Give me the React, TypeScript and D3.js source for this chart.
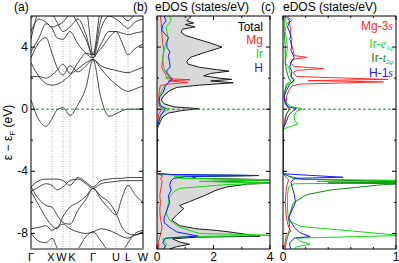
import React, { useEffect, useRef } from 'react';
import * as d3 from 'd3';

const width = 399;
const height = 263;
const top = 16;
const bottom = 249;

const eMin = -9;
const eMax = 6;

// k path
const kLabels = ['Γ', 'X', 'W', 'K', 'Γ', 'U', 'L', 'W'];
const kSym = [0, 21, 32, 39, 62, 85, 97, 112];
const kLabelShift = [0, -1, -1.5, 2, 0, 0, 0, 0];
const kNodes = [0, 8, 15, 21, 26, 32, 39, 47, 55, 62, 70, 78, 85, 91, 97, 104, 112];

// band energies (eV) at kNodes
const band1 = [0.6, -0.7, -1.1, -0.6, -0.05, 0.1, -0.4, 0.3, 1.4, 3.2, 0.7, -0.45, -0.3, -0.1, 0.0, 0.0, 0.05];
const band2 = [3.0, 2.1, 1.65, 1.55, 1.6, 1.8, 2.2, 2.6, 3.0, 3.2, 2.6, 2.0, 1.6, 1.3, 1.15, 1.3, 1.5];
const band3 = [3.3, 4.3, 4.6, 3.6, 2.7, 2.2, 2.8, 2.4, 2.8, 3.2, 2.8, 2.6, 2.5, 2.4, 2.35, 2.5, 2.7];
const band4 = [2.1, 2.1, 2.0, 2.2, 2.5, 2.9, 2.3, 3.0, 3.6, 3.5, 3.9, 4.6, 5.0, 4.3, 3.5, 3.9, 4.2];
const band5 = [3.7, 4.6, 5.5, 5.2, 4.6, 4.5, 5.0, 4.2, 3.6, 3.3, 4.2, 5.0, 5.0, 4.9, 4.8, 4.9, 5.0];
const band6 = [4.5, 6.3, 6.6, 6.2, 5.6, 5.0, 5.3, 5.8, 4.8, 3.3, 5.2, 6.0, 5.8, 5.5, 5.2, 5.6, 5.8];
const band7 = [5.0, 5.8, 5.6, 5.3, 5.4, 5.6, 6.2, 6.8, 6.5, 3.5, 6.4, 6.6, 6.3, 6.0, 5.7, 6.1, 6.3];
const band8 = [5.8, 6.5, 6.8, 6.8, 6.6, 6.5, 6.3, 5.5, 4.5, 3.5, 5.8, 6.8, 7.0, 6.8, 6.5, 6.6, 6.6];
const band9 = [-5.0, -4.6, -4.5, -4.5, -4.5, -4.6, -4.9, -4.4, -4.7, -5.0, -4.6, -4.5, -4.45, -4.45, -4.4, -4.4, -4.4];
const band10 = [-5.3, -5.0, -4.8, -4.9, -5.2, -5.0, -4.6, -4.5, -4.8, -5.1, -4.8, -4.7, -4.65, -4.6, -4.6, -4.6, -4.6];
const band11 = [-5.0, -5.8, -6.2, -6.3, -6.8, -7.3, -7.4, -6.5, -5.8, -5.1, -5.8, -6.4, -6.8, -5.7, -4.9, -5.5, -6.0];
const band12 = [-5.3, -6.2, -7.0, -7.5, -7.7, -6.9, -6.3, -6.0, -5.6, -5.1, -5.6, -6.0, -6.7, -7.6, -8.0, -8.1, -7.9];
const band13 = [-7.7, -7.6, -7.5, -7.8, -7.6, -7.4, -7.7, -7.9, -8.0, -7.9, -7.7, -7.8, -8.0, -8.2, -8.3, -8.1, -7.9];
const band14 = [-8.0, -8.5, -8.6, -8.3, -8.9, -9.5, -9.5, -9.0, -8.2, -7.9, -8.5, -9.2, -9.5, -9.2, -8.6, -8.0, -7.8];
const bands = [band1, band2, band3, band4, band5, band6, band7, band8, band9, band10, band11, band12, band13, band14];

// eDOS [energy, states/eV]
const dosTotal = [
  [6.0, 1.2], [5.85, 1.15], [5.7, 1.05], [5.55, 1.3], [5.45, 1.0], [5.3, 1.35], [5.15, 0.9], [4.95, 0.85],
  [4.75, 1.0], [4.5, 1.45], [4.25, 1.9], [4.0, 2.3], [3.85, 2.05], [3.6, 1.6], [3.35, 1.2], [3.1, 1.05],
  [2.9, 1.1], [2.7, 1.5], [2.55, 2.1], [2.45, 2.55], [2.3, 1.9], [2.15, 1.65], [2.0, 2.2], [1.92, 2.65],
  [1.82, 1.9], [1.7, 2.7], [1.55, 1.5], [1.4, 0.7], [1.2, 0.45], [0.9, 0.25], [0.6, 0.15], [0.35, 0.25],
  [0.15, 0.6], [0.03, 1.5], [-0.08, 0.9], [-0.25, 0.4], [-0.5, 0.2], [-0.8, 0.12], [-1.05, 0.05], [-1.3, 0],
  [-4.15, 0], [-4.22, 0.6], [-4.27, 3.6], [-4.33, 1.2], [-4.45, 1.4], [-4.55, 4.3], [-4.65, 2.0], [-4.75, 4.3],
  [-4.82, 3.2], [-5.0, 2.5], [-5.15, 2.2], [-5.25, 2.05], [-5.55, 1.7], [-5.95, 1.15], [-6.2, 0.8], [-6.4, 0.95],
  [-6.8, 0.7], [-7.15, 0.52], [-7.5, 0.8], [-7.7, 1.4], [-7.8, 2.1], [-7.9, 2.55], [-8.18, 3.65], [-8.24, 1.4],
  [-8.35, 0.55], [-8.55, 0.8], [-8.7, 1.15], [-8.85, 0.7], [-9.0, 0.45],
];
const dosMg = [
  [6.0, 0.12], [5.5, 0.15], [4.9, 0.17], [4.3, 0.2], [3.8, 0.24], [3.2, 0.2], [2.7, 0.17], [2.4, 0.25],
  [2.1, 0.35], [1.95, 0.5], [1.9, 1.17], [1.82, 0.4], [1.72, 1.1], [1.6, 0.3], [1.5, 0.12], [1.2, 0.08],
  [0.6, 0.06], [0.2, 0.08], [0.02, 0.18], [-0.3, 0.06], [-0.8, 0.03], [-1.3, 0], [-4.15, 0], [-4.3, 0.2],
  [-4.45, 0.12], [-4.6, 0.18], [-5.0, 0.15], [-5.5, 0.1], [-6.0, 0.12], [-6.5, 0.1], [-7.0, 0.12], [-7.6, 0.18],
  [-7.9, 0.15], [-8.2, 0.1], [-8.6, 0.05], [-9.0, 0.05],
];
const dosIr = [
  [6.0, 0.45], [5.7, 0.5], [5.3, 0.33], [5.0, 0.35], [4.6, 0.4], [4.2, 0.3], [3.8, 0.25], [3.3, 0.2],
  [2.7, 0.24], [2.4, 0.3], [2.2, 0.45], [2.0, 0.3], [1.9, 0.5], [1.7, 0.4], [1.5, 0.25], [1.2, 0.17],
  [0.9, 0.1], [0.6, 0.08], [0.3, 0.12], [0.1, 0.25], [0.02, 0.42], [-0.15, 0.25], [-0.4, 0.15], [-0.7, 0.08],
  [-1.0, 0.04], [-1.3, 0], [-4.15, 0], [-4.22, 0.5], [-4.27, 3.5], [-4.33, 0.6], [-4.45, 0.8], [-4.55, 4.3],
  [-4.65, 1.5], [-4.75, 4.3], [-4.85, 2.5], [-4.95, 1.8], [-5.1, 0.8], [-5.3, 0.6], [-5.65, 0.45], [-6.2, 0.38],
  [-6.7, 0.33], [-7.15, 0.45], [-7.6, 0.8], [-8.0, 1.5], [-8.12, 4.3], [-8.2, 1.0], [-8.35, 0.2], [-8.55, 0.25],
  [-8.7, 0.35], [-8.9, 0.25], [-9.0, 0.2],
];
const dosH = [
  [6.0, 0.25], [5.7, 0.32], [5.4, 0.2], [5.1, 0.17], [4.8, 0.3], [4.6, 0.4], [4.3, 0.35], [4.0, 0.35],
  [3.7, 0.45], [3.4, 0.4], [3.0, 0.45], [2.7, 0.46], [2.5, 0.35], [2.3, 0.35], [2.1, 0.45], [1.95, 0.55],
  [1.8, 0.45], [1.5, 0.3], [1.1, 0.22], [0.8, 0.1], [0.5, 0.07], [0.2, 0.12], [0.05, 0.3], [-0.1, 0.25],
  [-0.4, 0.12], [-0.7, 0.08], [-1.0, 0.04], [-1.3, 0], [-4.15, 0], [-4.2, 0.5], [-4.27, 3.6], [-4.35, 1.0],
  [-4.45, 0.6], [-4.6, 0.5], [-4.9, 0.45], [-5.2, 0.5], [-5.6, 0.4], [-6.0, 0.45], [-6.5, 0.35], [-7.0, 0.25],
  [-7.3, 0.25], [-7.6, 0.45], [-7.9, 0.7], [-8.17, 1.45], [-8.3, 0.3], [-8.6, 0.2], [-8.8, 0.3], [-9.0, 0.25],
];

// projected eDOS, panel (c)
const pdosMg3s = [
  [6.0, 0.04], [5.9, 0.05], [5.7, 0.08], [5.55, 0.04], [5.4, 0.06], [5.1, 0.07], [4.9, 0.06], [4.5, 0.08],
  [4.2, 0.07], [3.8, 0.09], [3.45, 0.1], [3.34, 0.21], [3.2, 0.08], [2.95, 0.07], [2.75, 0.1], [2.62, 0.36],
  [2.5, 0.12], [2.35, 0.09], [2.1, 0.12], [1.92, 0.93], [1.84, 0.22], [1.76, 0.89], [1.62, 0.15], [1.5, 0.08],
  [1.2, 0.05], [0.8, 0.03], [0.4, 0.03], [0.1, 0.04], [0.0, 0.06], [-0.2, 0.04], [-0.5, 0.02], [-1.0, 0.01],
  [-1.3, 0], [-4.15, 0], [-4.4, 0.03], [-4.55, 0.05], [-5.0, 0.03], [-6.0, 0.02], [-7.0, 0.03], [-7.6, 0.05],
  [-7.85, 0.07], [-8.1, 0.03], [-8.5, 0.02], [-9.0, 0.01],
];
const pdosIrEg = [
  [6.0, 0.02], [5.5, 0.03], [5.0, 0.02], [4.5, 0.03], [4.0, 0.04], [3.5, 0.03], [3.0, 0.02], [2.7, 0.05],
  [2.4, 0.06], [2.0, 0.08], [1.8, 0.1], [1.55, 0.04], [1.2, 0.02], [0.8, 0.01], [0.4, 0.03], [0.15, 0.08],
  [0.03, 0.17], [-0.15, 0.12], [-0.4, 0.1], [-0.7, 0.1], [-0.95, 0.13], [-1.15, 0.05], [-1.3, 0], [-4.15, 0],
  [-4.5, 0.1], [-4.58, 1.05], [-4.65, 0.3], [-4.72, 1.05], [-4.8, 0.1], [-5.0, 0.05], [-5.5, 0.04], [-6.5, 0.04],
  [-7.2, 0.05], [-7.55, 0.16], [-8.13, 1.05], [-8.3, 0.12], [-8.5, 0.15], [-8.7, 0.24], [-8.85, 0.12], [-9.0, 0.1],
];
const pdosIrT2g = [
  [6.0, 0.01], [5.0, 0.01], [4.0, 0.02], [3.0, 0.02], [2.5, 0.03], [2.0, 0.05], [1.8, 0.07], [1.6, 0.03],
  [1.0, 0.01], [0.3, 0.02], [0.03, 0.06], [-0.3, 0.03], [-0.8, 0.02], [-1.3, 0], [-4.15, 0], [-4.3, 0.05],
  [-4.5, 0.15], [-4.68, 1.05], [-4.75, 0.4], [-4.8, 1.05], [-4.86, 0.88], [-5.2, 0.42], [-5.5, 0.21], [-6.05, 0.09],
  [-7.0, 0.05], [-7.6, 0.06], [-8.0, 0.05], [-8.5, 0.03], [-9.0, 0.02],
];
const pdosH1s = [
  [6.0, 0.02], [5.8, 0.05], [5.6, 0.06], [5.3, 0.04], [5.1, 0.05], [4.8, 0.07], [4.5, 0.06], [4.1, 0.08],
  [3.8, 0.07], [3.5, 0.09], [3.3, 0.1], [3.0, 0.07], [2.7, 0.06], [2.4, 0.08], [2.1, 0.07], [1.9, 0.1],
  [1.6, 0.06], [1.2, 0.03], [0.8, 0.01], [0.4, 0.02], [0.15, 0.05], [0.03, 0.12], [-0.15, 0.08], [-0.4, 0.05],
  [-0.8, 0.03], [-1.1, 0.01], [-1.3, 0], [-4.15, 0], [-4.2, 0.1], [-4.38, 0.53], [-4.45, 0.1], [-4.7, 0.07],
  [-5.0, 0.08], [-5.5, 0.1], [-6.0, 0.11], [-6.5, 0.08], [-7.0, 0.05], [-7.6, 0.1], [-7.95, 0.15], [-8.2, 0.24],
  [-8.3, 0.1], [-8.6, 0.06], [-8.8, 0.06], [-9.0, 0.07],
];

const red = '#ff2a2a';
const green = '#11dd11';
const darkGreen = '#138a13';
const blue = '#1a1aff';
const fermiColor = '#1d9a1d';
const font = 'Liberation Sans, Arial, sans-serif';

export default function App() {
  const ref = useRef<SVGSVGElement>(null);

  useEffect(() => {
    const svg = d3.select(ref.current);
    svg.selectAll('*').remove();
    svg.style('font-family', font);

    const y = d3.scaleLinear().domain([eMin, eMax]).range([bottom, top]);

    const clip = (id: string, x0: number, x1: number) => {
      svg.append('clipPath').attr('id', id)
        .append('rect').attr('x', x0).attr('y', top).attr('width', x1 - x0).attr('height', bottom - top);
    };

    const yTicks = (x0: number, x1: number, labels: boolean) => {
      const g = svg.append('g');
      d3.range(-8, 6, 2).forEach((e) => {
        const major = e % 4 === 0;
        const len = major ? 4 : 2;
        g.append('line').attr('x1', x0).attr('x2', x0 + len).attr('y1', y(e)).attr('y2', y(e)).attr('stroke', '#000');
        g.append('line').attr('x1', x1).attr('x2', x1 - len).attr('y1', y(e)).attr('y2', y(e)).attr('stroke', '#000');
        if (labels && major) {
          g.append('text').attr('x', x0 - 3).attr('y', y(e) + 4).attr('text-anchor', 'end')
            .attr('font-size', 12).text(String(e));
        }
      });
    };

    const fermi = (x0: number, x1: number) => {
      svg.append('line').attr('x1', x0).attr('x2', x1).attr('y1', y(0)).attr('y2', y(0))
        .attr('stroke', fermiColor).attr('stroke-width', 1).attr('stroke-dasharray', '3,2');
    };

    const frame = (x0: number, x1: number) => {
      svg.append('rect').attr('x', x0).attr('y', top).attr('width', x1 - x0).attr('height', bottom - top)
        .attr('fill', 'none').attr('stroke', '#000').attr('stroke-width', 1);
    };

    // ---- panel (a): bands
    const ax0 = 31, ax1 = 143;
    const xk = d3.scaleLinear().domain([0, 112]).range([ax0, ax1]);
    clip('clipA', ax0, ax1);

    kSym.slice(1, -1).forEach((k) => {
      svg.append('line').attr('x1', xk(k)).attr('x2', xk(k)).attr('y1', top).attr('y2', bottom)
        .attr('stroke', '#999').attr('stroke-width', 0.8).attr('stroke-dasharray', '1,1.5');
    });

    const bandLine = d3.line<number[]>().x((d) => xk(d[0])).y((d) => y(d[1])).curve(d3.curveMonotoneX);
    const gBands = svg.append('g').attr('clip-path', 'url(#clipA)');
    bands.forEach((b) => {
      gBands.append('path').attr('d', bandLine(kNodes.map((k, i) => [k, b[i]])))
        .attr('fill', 'none').attr('stroke', '#1a1a1a').attr('stroke-width', 0.8);
    });
    fermi(ax0, ax1);
    frame(ax0, ax1);
    svg.append('line').attr('x1', ax0).attr('x2', ax1).attr('y1', bottom).attr('y2', bottom)
      .attr('stroke', '#8a8a8a').attr('stroke-width', 2);
    yTicks(ax0, ax1, true);

    kSym.forEach((k, i) => {
      svg.append('text').attr('x', xk(k) + kLabelShift[i]).attr('y', 261).attr('text-anchor', 'middle')
        .attr('font-size', 11).text(kLabels[i]);
    });

    const yl = svg.append('text').attr('transform', `translate(12,${y(-1.5)}) rotate(-90)`)
      .attr('text-anchor', 'middle').attr('font-size', 12);
    yl.append('tspan').text('ε − ε');
    yl.append('tspan').attr('font-size', 8).attr('dy', 3).text('F');
    yl.append('tspan').attr('dy', -3).text(' (eV)');

    svg.append('text').attr('x', 14).attr('y', 11).attr('font-size', 12).text('(a)');

    // ---- panel (b): total and partial eDOS
    const bx0 = 157, bx1 = 270;
    const xb = d3.scaleLinear().domain([0, 4]).range([bx0, bx1]);
    clip('clipB', bx0, bx1);
    const gB = svg.append('g').attr('clip-path', 'url(#clipB)');
    const area = d3.area<number[]>().y((d) => y(d[0])).x0(xb(0)).x1((d) => xb(d[1]));
    gB.append('path').attr('d', area(dosTotal)).attr('fill', '#d9d9d9');
    const lineB = d3.line<number[]>().x((d) => xb(d[1])).y((d) => y(d[0]));
    [[dosTotal, '#1a1a1a'], [dosMg, red], [dosIr, green], [dosH, blue]].forEach(([d, c]) => {
      gB.append('path').attr('d', lineB(d as number[][])).attr('fill', 'none')
        .attr('stroke', c as string).attr('stroke-width', 1);
    });
    fermi(bx0, bx1);
    frame(bx0, bx1);
    yTicks(bx0, bx1, false);
    [0, 1, 2, 3, 4].forEach((v) => {
      const len = v % 2 === 0 ? 4 : 2;
      svg.append('line').attr('x1', xb(v)).attr('x2', xb(v)).attr('y1', bottom).attr('y2', bottom - len).attr('stroke', '#000');
      svg.append('line').attr('x1', xb(v)).attr('x2', xb(v)).attr('y1', top).attr('y2', top + len).attr('stroke', '#000');
      if (v % 2 === 0) {
        svg.append('text').attr('x', xb(v)).attr('y', 261).attr('text-anchor', 'middle').attr('font-size', 12).text(String(v));
      }
    });
    svg.append('text').attr('x', 133).attr('y', 11).attr('font-size', 12).text('(b)');
    svg.append('text').attr('x', 155).attr('y', 11).attr('font-size', 12).text('eDOS (states/eV)');
    const legB: [string, string, number][] = [['Total', '#000', 31], ['Mg', red, 44], ['Ir', green, 58], ['H', blue, 72]];
    legB.forEach(([t, c, yy]) => {
      svg.append('text').attr('x', 263).attr('y', yy).attr('text-anchor', 'end').attr('font-size', 12)
        .attr('fill', c).text(t);
    });

    // ---- panel (c): projected eDOS
    const cx0 = 283, cx1 = 396;
    const xc = d3.scaleLinear().domain([0, 1]).range([cx0, cx1]);
    clip('clipC', cx0, cx1);
    const gC = svg.append('g').attr('clip-path', 'url(#clipC)');
    const lineC = d3.line<number[]>().x((d) => xc(d[1])).y((d) => y(d[0]));
    [[pdosMg3s, red], [pdosIrEg, green], [pdosIrT2g, darkGreen], [pdosH1s, blue]].forEach(([d, c]) => {
      gC.append('path').attr('d', lineC(d as number[][])).attr('fill', 'none')
        .attr('stroke', c as string).attr('stroke-width', 1);
    });
    fermi(cx0, cx1);
    frame(cx0, cx1);
    yTicks(cx0, cx1, false);
    d3.range(0, 1.01, 0.2).forEach((v, i) => {
      const len = i === 0 || i === 5 ? 4 : 2;
      svg.append('line').attr('x1', xc(v)).attr('x2', xc(v)).attr('y1', bottom).attr('y2', bottom - len).attr('stroke', '#000');
      svg.append('line').attr('x1', xc(v)).attr('x2', xc(v)).attr('y1', top).attr('y2', top + len).attr('stroke', '#000');
    });
    svg.append('text').attr('x', xc(0)).attr('y', 261).attr('text-anchor', 'middle').attr('font-size', 12).text('0');
    svg.append('text').attr('x', xc(1)).attr('y', 261).attr('text-anchor', 'middle').attr('font-size', 12).text('1');
    svg.append('text').attr('x', 261).attr('y', 11).attr('font-size', 12).text('(c)');
    svg.append('text').attr('x', 283).attr('y', 11).attr('font-size', 12).text('eDOS (states/eV)');

    const legC: [string, string, string, number][] = [
      ['Mg-3', 's', red, 30],
      ['Ir-', 'e', green, 48],
      ['Ir-', 't', darkGreen, 62],
      ['H-1', 's', blue, 77],
    ];
    const subs = ['', '1g', '2g', ''];
    legC.forEach(([a, b, c, yy], i) => {
      const t = svg.append('text').attr('x', 393).attr('y', yy).attr('text-anchor', 'end').attr('font-size', 12).attr('fill', c);
      t.append('tspan').text(a);
      t.append('tspan').attr('font-style', 'italic').attr('font-family', 'Liberation Serif, serif').text(b);
      if (subs[i]) {
        t.append('tspan').attr('font-size', 7).attr('dy', 2).attr('font-style', 'italic')
          .attr('font-family', 'Liberation Serif, serif').text(subs[i]);
      }
    });
  }, []);

  return (
    <svg ref={ref} width={width} height={height}
      style={{ position: 'absolute', left: 0, top: 0, background: '#fff' }} />
  );
}
